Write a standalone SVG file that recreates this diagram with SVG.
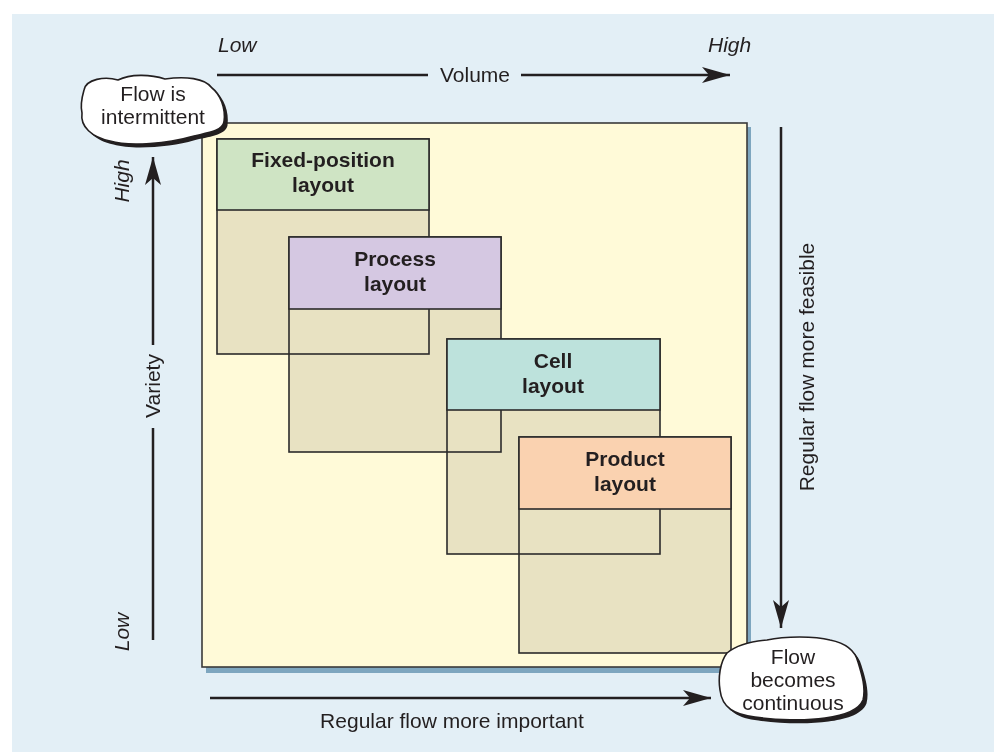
<svg xmlns="http://www.w3.org/2000/svg" width="994" height="752" viewBox="0 0 994 752">
<style>
text{font-family:"Liberation Sans",Arial,Helvetica,sans-serif;fill:#231f20}
.lbl{font-size:21px}
.it{font-size:21px;font-style:italic}
.bold{font-size:21px;font-weight:bold;text-anchor:middle}
.mid{text-anchor:middle}
.body{fill:#e8e2c2;stroke:none;mix-blend-mode:darken}
.bodyline{fill:none;stroke:#2b2b2b;stroke-width:1.6}
.head{stroke:#2b2b2b;stroke-width:1.6}
.ax{stroke:#231f20;stroke-width:2.5;fill:none}
.cloud{fill:#fff;stroke:#231f20;stroke-width:1.6}
.cshadow{fill:#231f20}
</style>
<defs>
<marker id="ah" markerUnits="userSpaceOnUse" markerWidth="30" markerHeight="18" refX="28" refY="8" orient="auto" viewBox="0 0 30 16">
<path d="M0,0 L28,8 L0,16 L7,8 Z" fill="#231f20"/>
</marker>
</defs>
<rect x="0" y="0" width="994" height="752" fill="#ffffff"/>
<rect x="12" y="14" width="982" height="738" fill="#e3eff6"/>
<g id="panel">
<rect x="206" y="127" width="545" height="546" fill="#7ea6bf"/>
<rect x="202" y="123" width="545" height="544" fill="#fffad8" stroke="#3a3a3a" stroke-width="1.6"/>
</g>
<g id="bodies-lines">
<rect class="body" x="217" y="139" width="212" height="215"/>
<rect class="body" x="289" y="237" width="212" height="215"/>
<rect class="body" x="447" y="339" width="213" height="215"/>
<rect class="body" x="519" y="437" width="212" height="216"/>
<rect class="bodyline" x="217" y="139" width="212" height="215"/>
<rect class="bodyline" x="289" y="237" width="212" height="215"/>
<rect class="bodyline" x="447" y="339" width="213" height="215"/>
<rect class="bodyline" x="519" y="437" width="212" height="216"/>
</g>
<g id="fixed-position">
<rect class="head" x="217" y="139" width="212" height="71" fill="#cfe4c4"/>
<text class="bold" x="323" y="167">Fixed-position</text>
<text class="bold" x="323" y="192">layout</text>
</g>
<g id="process">
<rect class="head" x="289" y="237" width="212" height="72" fill="#d5c8e2"/>
<text class="bold" x="395" y="266">Process</text>
<text class="bold" x="395" y="291">layout</text>
</g>
<g id="cell">
<rect class="head" x="447" y="339" width="213" height="71" fill="#bde2dc"/>
<text class="bold" x="553" y="368">Cell</text>
<text class="bold" x="553" y="393">layout</text>
</g>
<g id="product">
<rect class="head" x="519" y="437" width="212" height="72" fill="#fad2b0"/>
<text class="bold" x="625" y="466">Product</text>
<text class="bold" x="625" y="491">layout</text>
</g>
<g id="connectors">
<line class="ax" x1="217" y1="75" x2="428" y2="75"/>
<line class="ax" x1="521" y1="75" x2="730" y2="75" marker-end="url(#ah)"/>
<line class="ax" x1="153" y1="640" x2="153" y2="428"/>
<line class="ax" x1="153" y1="345" x2="153" y2="157" marker-end="url(#ah)"/>
<line class="ax" x1="781" y1="127" x2="781" y2="628" marker-end="url(#ah)"/>
<line class="ax" x1="210" y1="698" x2="711" y2="698" marker-end="url(#ah)"/>
</g>
<g id="axis-labels">
<text class="it" x="218" y="52">Low</text>
<text class="it" x="708" y="52">High</text>
<text class="lbl mid" x="475" y="82">Volume</text>
<text class="it mid" x="129" y="181" transform="rotate(-90 129 181)">High</text>
<text class="it mid" x="129" y="632" transform="rotate(-90 129 632)">Low</text>
<text class="lbl mid" x="160" y="386" transform="rotate(-90 160 386)">Variety</text>
<text class="lbl mid" x="814" y="367" transform="rotate(-90 814 367)">Regular flow more feasible</text>
<text class="lbl mid" x="452" y="728">Regular flow more important</text>
</g>
<g id="cloud-intermittent">
<path class="cshadow" transform="translate(3.5,3.5)" d="M84 90 C86 79,105 76,118 80 C130 74,150 74,165 79 C185 76,205 78,212 88 C220 94,226 108,224 122 C222 132,205 133,190 137 C170 143,130 147,110 141 C92 137,80 127,82 113 C80 105,82 97,84 90 Z"/>
<path class="cloud" d="M84 90 C86 79,105 76,118 80 C130 74,150 74,165 79 C185 76,205 78,212 88 C220 94,226 108,224 122 C222 132,205 133,190 137 C170 143,130 147,110 141 C92 137,80 127,82 113 C80 105,82 97,84 90 Z"/>
<text class="lbl mid" x="153" y="101">Flow is</text>
<text class="lbl mid" x="153" y="124">intermittent</text>
</g>
<g id="cloud-continuous">
<path class="cshadow" transform="translate(3.5,3.5)" d="M727 653 C738 644,755 641,767 640 C785 636,815 636,830 640 C845 643,855 650,858 662 C862 675,866 688,863 700 C858 712,840 716,825 718 C805 721,775 720,755 717 C735 715,722 708,720 690 C718 678,720 662,727 653 Z"/>
<path class="cloud" d="M727 653 C738 644,755 641,767 640 C785 636,815 636,830 640 C845 643,855 650,858 662 C862 675,866 688,863 700 C858 712,840 716,825 718 C805 721,775 720,755 717 C735 715,722 708,720 690 C718 678,720 662,727 653 Z"/>
<text class="lbl mid" x="793" y="664">Flow</text>
<text class="lbl mid" x="793" y="687">becomes</text>
<text class="lbl mid" x="793" y="710">continuous</text>
</g>
</svg>
